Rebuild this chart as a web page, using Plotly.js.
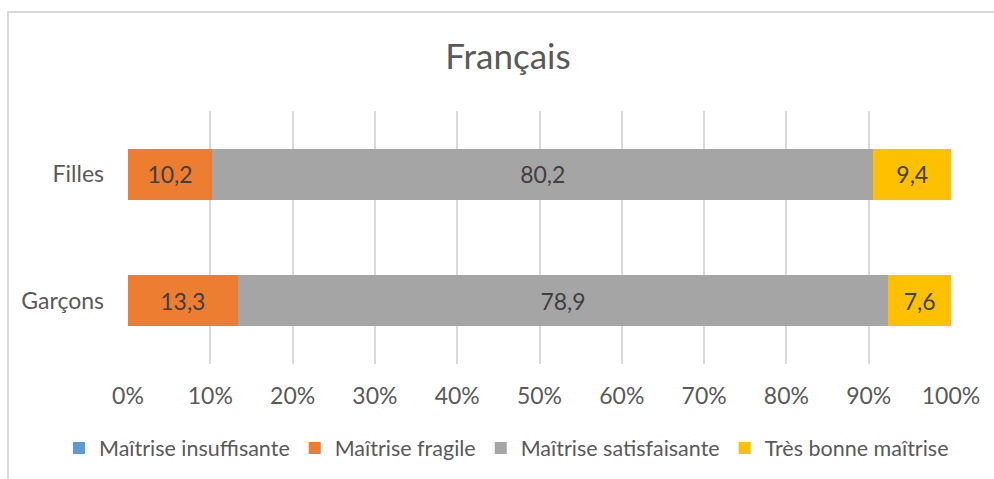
<!DOCTYPE html>
<html>
<head>
<meta charset="utf-8">
<script src="https://cdn.plot.ly/plotly-3.0.1.min.js"></script>
<style>
html,body{margin:0;padding:0;background:#fff;overflow:hidden;}
#frame{position:absolute;left:7px;top:11px;width:1010px;height:500px;border:2px solid #d9d9d9;box-sizing:border-box;}
#chart{position:absolute;left:0;top:0;width:994px;height:479px;}
</style>
</head>
<body>
<div id="frame"></div>
<div id="chart"></div>
<script>
const categories = ['Garçons', 'Filles'];
const seriesNames = ['Maîtrise insuffisante', 'Maîtrise fragile', 'Maîtrise satisfaisante', 'Très bonne maîtrise'];
const insuffisante = [0, 0];
const fragile = [13.3, 10.2];
const satisfaisante = [78.9, 80.2];
const tresBonne = [7.6, 9.4];
const xTickVals = [0, 10, 20, 30, 40, 50, 60, 70, 80, 90, 100];

const colors = ['#5b9bd5', '#ed7d31', '#a5a5a5', '#ffc000'];
const series = [insuffisante, fragile, satisfaisante, tresBonne];
const showLabels = [false, true, true, true];
const FONT = 'Lato, Carlito, "Liberation Sans", sans-serif';
const FS = 23;
const LFS = 21.5;

const traces = series.map((vals, i) => ({
  type: 'bar',
  orientation: 'h',
  name: seriesNames[i],
  y: categories,
  x: vals,
  marker: {color: colors[i], line: {width: 0}},
  text: showLabels[i] ? vals.map(v => v.toFixed(1).replace('.', ',')) : vals.map(() => ''),
  textposition: 'inside',
  insidetextanchor: 'middle',
  constraintext: 'none',
  textfont: {family: FONT, size: FS, color: '#404040'},
  hoverinfo: 'none'
}));

const W = 994, H = 479;
const M = {l: 128, r: 43, t: 111, b: 114};
const plotW = W - M.l - M.r, plotH = H - M.t - M.b;

const layout = {
  width: W,
  height: H,
  paper_bgcolor: 'rgba(0,0,0,0)',
  plot_bgcolor: 'rgba(0,0,0,0)',
  margin: M,
  barmode: 'stack',
  barnorm: 'percent',
  bargap: 0.6,
  font: {family: FONT, size: FS, color: '#595959'},
  title: {
    text: 'Français',
    font: {family: FONT, size: 35, color: '#595959'},
    x: 0.511, xref: 'container', xanchor: 'center',
    y: 1 - 57 / H, yref: 'container', yanchor: 'middle'
  },
  xaxis: {
    range: [0, 100],
    tickvals: xTickVals,
    ticktext: xTickVals.map(v => v + '%'),
    showgrid: true,
    gridcolor: '#d9d9d9',
    gridwidth: 2,
    zeroline: false,
    showline: false,
    ticks: '',
    ticklabelstandoff: 16,
    tickfont: {family: FONT, size: FS, color: '#595959'},
    fixedrange: true
  },
  yaxis: {
    type: 'category',
    showgrid: false,
    zeroline: false,
    showline: false,
    ticks: '',
    ticklabelstandoff: 23,
    tickfont: {family: FONT, size: FS, color: '#595959'},
    fixedrange: true
  },
  legend: {
    orientation: 'h',
    xref: 'paper', x: (59 - M.l) / plotW, xanchor: 'left',
    yref: 'paper', y: -(448 - (H - M.b)) / plotH, yanchor: 'middle',
    font: {family: FONT, size: LFS, color: '#595959'},
    itemwidth: 30,
    tracegroupgap: 0,
    traceorder: 'normal'
  },
  showlegend: true
};

Plotly.newPlot('chart', traces, layout, {displayModeBar: false, staticPlot: true});
</script>
</body>
</html>
